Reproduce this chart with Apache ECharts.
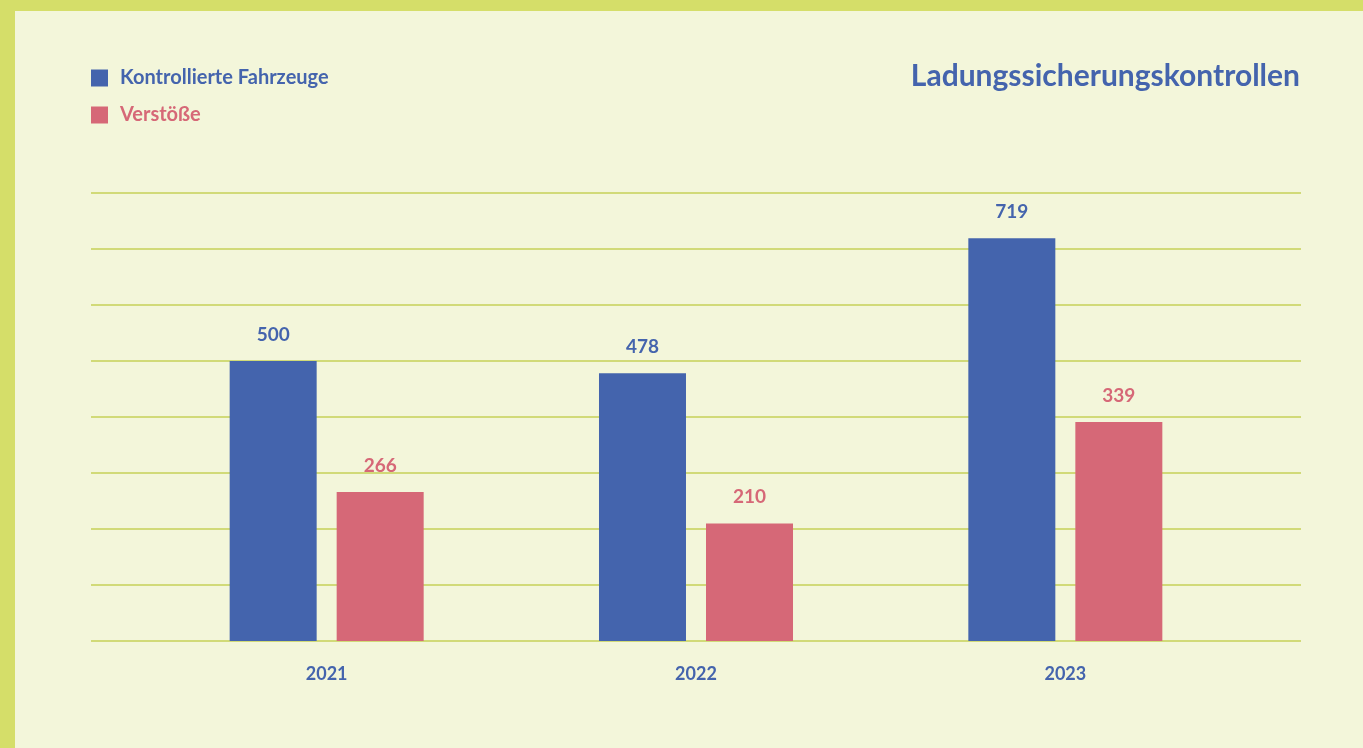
<!DOCTYPE html>
<html>
<head>
<meta charset="utf-8">
<script src="https://cdn.jsdelivr.net/npm/echarts@6/dist/echarts.min.js"></script>
<style>
  html, body { margin: 0; padding: 0; background: #d5de69; }
  #wrap { position: absolute; left: 15px; top: 11px; right: 0; bottom: 0; background: #f3f6da; }
  #chart1 { position: absolute; left: 0; top: 0; width: 1363px; height: 748px; }
</style>
</head>
<body>
<div id="wrap"></div>
<div id="chart1"></div>
<script>
// Daten
const jahre = ['2021', '2022', '2023'];
const fahrzeuge = [500, 478, 719];
// Beschriftung der Verstöße und die im Bild gezeichnete Balkenhöhe (2023 ist höher gezeichnet)
const verstoesse = [266, 210, 339];
const verstoesseHoehe = [266, 210, 391];

const blau = '#4464ad';
const rot = '#d66877';
const linie = '#c6d157';
const schrift = 'Lato, "Open Sans", sans-serif';

function initChart() {
    const chart = echarts.init(document.getElementById('chart1'), null, { renderer: 'canvas' });

    const option = {
        animation: false,
        backgroundColor: 'transparent',
        title: {
            text: 'Ladungssicherungskontrollen',
            right: 58,
            top: 56,
            textStyle: { color: blau, fontSize: 30, fontWeight: 'bold', fontFamily: schrift }
        },
        legend: {
            orient: 'vertical',
            left: 86,
            top: 63,
            itemWidth: 17,
            itemHeight: 17,
            itemGap: 17,
            icon: 'rect',
            data: [
                { name: 'Kontrollierte Fahrzeuge', textStyle: { color: blau } },
                { name: 'Verstöße', textStyle: { color: rot } }
            ],
            textStyle: { fontSize: 20, fontWeight: 'bold', fontFamily: schrift, padding: [0, 0, 0, 7] }
        },
        grid: [
            { left: 142, right: 113, top: 193, bottom: 107 },
            { left: 91, right: 62, top: 193, bottom: 107 }
        ],
        xAxis: [
            {
                type: 'category',
                gridIndex: 0,
                data: jahre,
                axisLine: { show: false },
                axisTick: { show: false },
                axisLabel: {
                    color: blau, fontSize: 18, fontWeight: 'bold', fontFamily: schrift, margin: 24
                }
            },
            {
                type: 'value',
                gridIndex: 1,
                min: 0, max: 1,
                show: false
            }
        ],
        yAxis: [
            {
                type: 'value',
                gridIndex: 0,
                min: 0, max: 800, interval: 100,
                show: false
            },
            {
                type: 'value',
                gridIndex: 1,
                min: 0, max: 800, interval: 100,
                axisLine: { show: false },
                axisTick: { show: false },
                axisLabel: { show: false },
                splitLine: { show: true, lineStyle: { color: [linie], width: 1.5 } }
            }
        ],
        series: [
            {
                name: 'Kontrollierte Fahrzeuge',
                type: 'bar',
                data: fahrzeuge,
                barWidth: 87,
                barGap: '23%',
                itemStyle: { color: blau },
                label: {
                    show: true, position: 'top', distance: 17,
                    color: blau, fontSize: 19, fontWeight: 'bold', fontFamily: schrift
                }
            },
            {
                name: 'Verstöße',
                type: 'bar',
                data: verstoesseHoehe,
                barWidth: 87,
                itemStyle: { color: rot },
                label: {
                    show: true, position: 'top', distance: 17,
                    color: rot, fontSize: 19, fontWeight: 'bold', fontFamily: schrift,
                    formatter: function (p) { return String(verstoesse[p.dataIndex]); }
                }
            }
        ]
    };

    chart.setOption(option);
}

window.addEventListener('load', initChart);
</script>
</body>
</html>
